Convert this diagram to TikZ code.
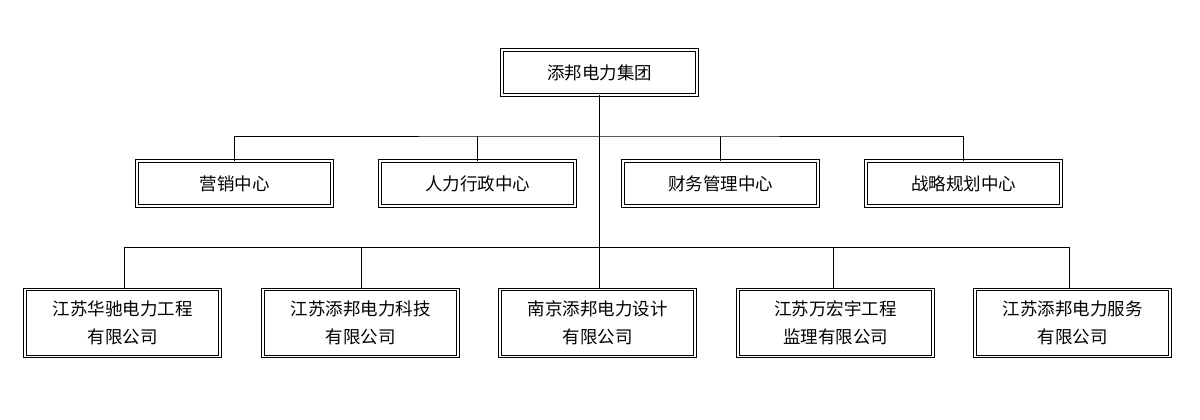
\documentclass[tikz,border=0pt]{standalone}
\usepackage{fontspec}
\setmainfont{Noto Sans CJK SC}
\begin{document}
\begin{tikzpicture}[x=1pt,y=-1pt,
  box/.style={draw=black, double=white, double distance=1.6pt, line width=0.9pt,
    minimum width=195pt, minimum height=45pt, inner sep=0pt, align=center,
    font=\fontsize{17.5pt}{28pt}\selectfont},
  tall/.style={minimum height=67pt},
  conn/.style={line width=0.9pt, black}]
\useasboundingbox (0,0) rectangle (1200,420);
\node[box] (top) at (599.5,72.5) {添邦电力集团};
\node[box] (m1) at (234.5,183.5) {营销中心};
\node[box] (m2) at (477.5,183.5) {人力行政中心};
\node[box] (m3) at (720.5,183.5) {财务管理中心};
\node[box] (m4) at (963.5,183.5) {战略规划中心};
\node[box, tall] (b1) at (122.5,323) {江苏华驰电力工程\\有限公司};
\node[box, tall] (b2) at (360.5,323) {江苏添邦电力科技\\有限公司};
\node[box, tall] (b3) at (597.5,323) {南京添邦电力设计\\有限公司};
\node[box, tall] (b4) at (835.5,323) {江苏万宏宇工程\\监理有限公司};
\node[box, tall] (b5) at (1072.5,323) {江苏添邦电力服务\\有限公司};
\coordinate (j1) at (599.5,136);
\coordinate (j2) at (599.5,247);
\coordinate (c1) at (124,247);
\coordinate (c2) at (361,247);
\coordinate (c4) at (833,247);
\coordinate (c5) at (1069,247);
\draw[conn] (top.south) -- (j2);
\draw[conn] (m1.north) |- (j1) -| (m4.north);
\draw[conn] (m2.north) -- (m2.north |- j1);
\draw[conn] (m3.north) -- (m3.north |- j1);
\draw[conn] (c1 |- b1.north) -- (c1) -- (c5) -- (c5 |- b5.north);
\draw[conn] (c2) -- (c2 |- b2.north);
\draw[conn] (c4) -- (c4 |- b4.north);
\draw[conn] (j2) -- (j2 |- b3.north);
\end{tikzpicture}
\end{document}
